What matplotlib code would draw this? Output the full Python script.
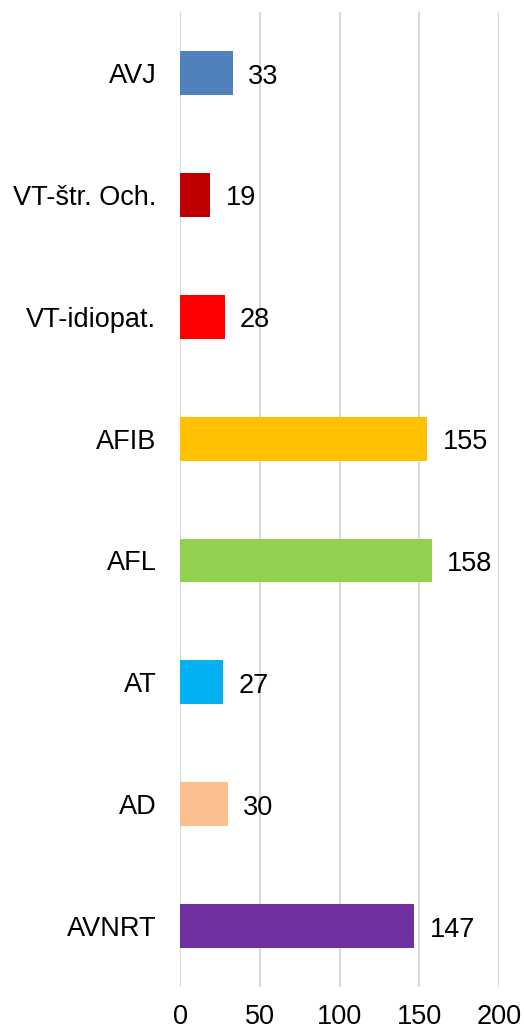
import matplotlib
matplotlib.use("Agg")
import matplotlib.pyplot as plt

categories = ["AVJ", "VT-štr. Och.", "VT-idiopat.", "AFIB", "AFL", "AT", "AD", "AVNRT"]
values = [33, 19, 28, 155, 158, 27, 30, 147]
colors = ["#4F81BD", "#C00000", "#FF0000", "#FFC000", "#92D050", "#00B0F0", "#FAC090", "#7030A0"]
xticks = [0, 50, 100, 150, 200]

plt.rcParams['font.family'] = ['Liberation Sans', 'DejaVu Sans']
FS = 19.5

fig = plt.figure(figsize=(5.24, 10.30), dpi=100)
ax = fig.add_axes([180 / 524, 1 - 987 / 1030, 319 / 524, 975 / 1030])

ypos = list(range(len(categories)))
ax.barh(ypos, values, height=0.36, color=colors, zorder=3)
for y, v in zip(ypos, values):
    ax.text(v + 9.5, y + 0.03, str(v), va="center", ha="left", fontsize=FS)

ax.set_xlim(0, 200)
ax.set_ylim(len(categories) - 0.5, -0.5)
ax.set_yticks(ypos)
ax.set_yticklabels(categories, fontsize=FS)
ax.set_xticks(xticks)
ax.set_xticklabels([str(t) for t in xticks], fontsize=FS)
ax.tick_params(axis="both", length=0)
ax.tick_params(axis="y", pad=17)
ax.tick_params(axis="x", pad=12)
ax.grid(axis="x", color="#D9D9D9", linewidth=1.5, zorder=0)
for s in ax.spines.values():
    s.set_visible(False)

fig.savefig("out.png", dpi=100)
